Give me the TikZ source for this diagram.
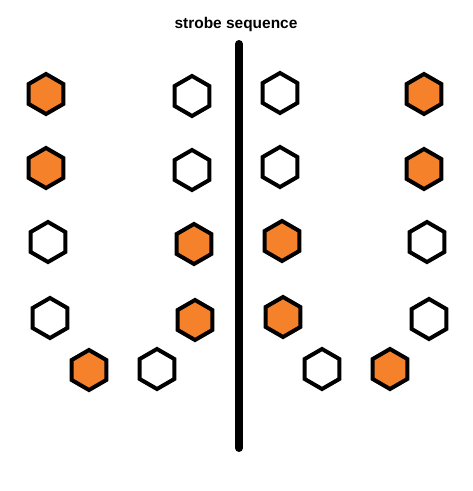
\documentclass[tikz,border=0pt]{standalone}
\usepackage{fontspec}
\setsansfont{Liberation Sans}
\usetikzlibrary{shapes.geometric}
\definecolor{strobeorange}{RGB}{245,130,42}

\begin{document}
\begin{tikzpicture}[x=0.75pt, y=-0.75pt,
          hexa/.style={regular polygon, regular polygon sides=6, shape border rotate=30,
                       draw=black, line width=3pt, minimum size=30pt, inner sep=0pt},
          lit/.style={hexa, fill=strobeorange},
          dark/.style={hexa, fill=white}]
        \useasboundingbox (0,0) rectangle (472,491);
        \node[font=\sffamily\bfseries\fontsize{11.6}{13}\selectfont] (title) at (236,25) {strobe sequence};
        % divider
        \coordinate (top) at (239,44);
        \coordinate (bot) at (239,448);
        \draw[line width=6pt, line cap=round] (top) -- (bot);
        % left half
        \foreach \n/\x/\y/\s in {a1/46/94/lit, a2/46/168/lit, a3/48/242/dark, a4/50/318/dark,
                                 b1/192/96/dark, b2/192/170/dark, b3/194/244/lit, b4/195/320/lit,
                                 c1/89/370/lit, c2/157/369/dark}
          \node[\s] (\n) at (\x,\y) {};
        % right half
        \foreach \n/\x/\y/\s in {d1/280/93/dark, d2/280/167/dark, d3/282/241/lit, d4/283/317/lit,
                                 e1/424/94/lit, e2/424/169/lit, e3/427/242/dark, e4/429/319/dark,
                                 f1/322/369/dark, f2/390/369/lit}
          \node[\s] (\n) at (\x,\y) {};
\end{tikzpicture}
\end{document}
